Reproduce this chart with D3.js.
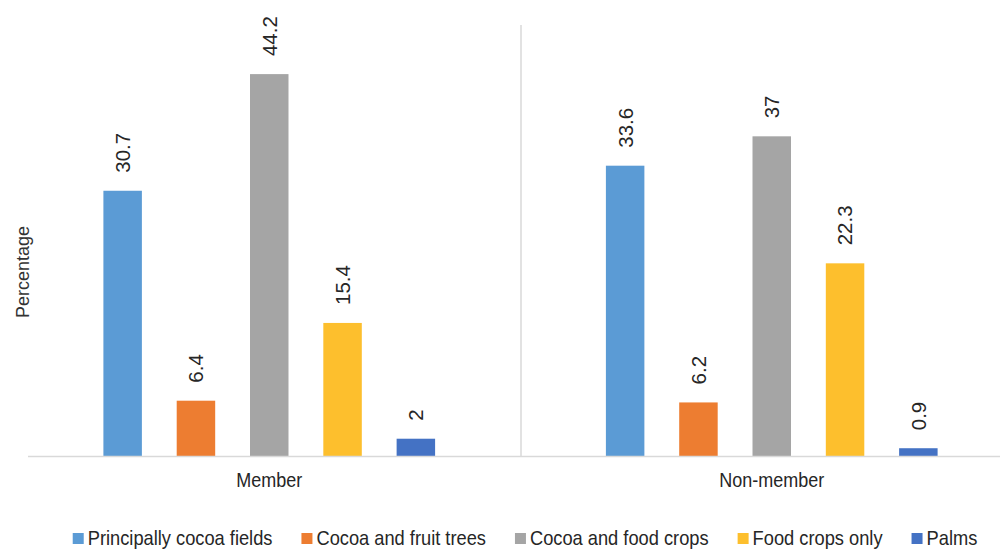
<!DOCTYPE html>
<html>
<head>
<meta charset="utf-8">
<script src="https://cdn.jsdelivr.net/npm/d3@7"></script>
<style>
  html, body { margin: 0; padding: 0; background: #ffffff; }
  svg { display: block; }
  text { font-family: "Liberation Sans", Arial, sans-serif; }
</style>
</head>
<body>
<svg id="chart" width="1000" height="549"></svg>
<script>
// ---- data ----
const groups = ["Member", "Non-member"];
const seriesNames = ["Principally cocoa fields", "Cocoa and fruit trees", "Cocoa and food crops", "Food crops only", "Palms"];
const memberValues = [30.7, 6.4, 44.2, 15.4, 2];
const nonMemberValues = [33.6, 6.2, 37, 22.3, 0.9];
const seriesColors = ["#5B9BD5", "#ED7D31", "#A5A5A5", "#FDBF2D", "#4472C4"];
const yAxisTitle = "Percentage";

const valuesByGroup = [memberValues, nonMemberValues];

const svg = d3.select("#chart");

const plot = { left: 18, right: 1023, top: 24, bottom: 456 };

const x0 = d3.scaleBand().domain(groups).range([plot.left, plot.right]).padding(0);
const x1 = d3.scaleBand().domain(seriesNames).range([0, x0.bandwidth()])
  .paddingInner(0.475).paddingOuter(1.165);
const y = d3.scaleLinear().domain([0, 50]).range([plot.bottom, plot.top]);

// separator between groups
svg.append("line")
  .attr("x1", x0("Non-member") + 0.5).attr("x2", x0("Non-member") + 0.5)
  .attr("y1", y(50) + 1).attr("y2", plot.bottom)
  .attr("stroke", "#D9D9D9").attr("stroke-width", 1.5);

// bars
const gGroups = svg.selectAll("g.group")
  .data(groups.map((g, i) => ({ group: g, values: valuesByGroup[i] })))
  .join("g")
  .attr("class", "group")
  .attr("transform", d => `translate(${x0(d.group)},0)`);

gGroups.selectAll("rect")
  .data(d => d.values.map((v, j) => ({ name: seriesNames[j], value: v, color: seriesColors[j] })))
  .join("rect")
  .attr("x", d => x1(d.name))
  .attr("width", x1.bandwidth())
  .attr("y", d => y(d.value))
  .attr("height", d => y(0) - y(d.value))
  .attr("fill", d => d.color);

// value labels (rotated)
gGroups.selectAll("text.val")
  .data(d => d.values.map((v, j) => ({ name: seriesNames[j], value: v })))
  .join("text")
  .attr("class", "val")
  .attr("transform", d => `translate(${x1(d.name) + x1.bandwidth() / 2},${y(d.value) - 18}) rotate(-90)`)
  .attr("dy", "0.36em")
  .attr("text-anchor", "start")
  .attr("font-size", 20.5)
  .attr("fill", "#262626")
  .text(d => d.value);

// baseline (x axis)
svg.append("line")
  .attr("x1", 28).attr("x2", 1000)
  .attr("y1", plot.bottom + 0.5).attr("y2", plot.bottom + 0.5)
  .attr("stroke", "#D9D9D9").attr("stroke-width", 1.5);

// group labels
svg.selectAll("text.grp")
  .data(groups)
  .join("text")
  .attr("class", "grp")
  .attr("transform", d => `translate(${x0(d) + x0.bandwidth() / 2},487) scale(0.9,1)`)
  .attr("text-anchor", "middle")
  .attr("font-size", 20)
  .attr("fill", "#262626")
  .text(d => d);

// y axis title
svg.append("text")
  .attr("transform", `translate(29,272) rotate(-90)`)
  .attr("text-anchor", "middle")
  .attr("font-size", 18)
  .attr("font-family", "Roboto, 'Liberation Sans', sans-serif")
  .attr("font-weight", 300)
  .attr("fill", "#333333")
  .text(yAxisTitle);

// legend
const legend = svg.append("g");
const lsx = 0.87;
const items = legend.selectAll("g.item")
  .data(seriesNames.map((n, i) => ({ name: n, color: seriesColors[i] })))
  .join("g")
  .attr("class", "item");
items.append("rect")
  .attr("width", 11).attr("height", 11)
  .attr("y", -12)
  .attr("fill", d => d.color);
items.append("text")
  .attr("transform", `translate(15,0) scale(${lsx},1)`)
  .attr("font-size", 21)
  .attr("fill", "#262626")
  .text(d => d.name);

let xpos = 0;
const gap = 29;
items.each(function () {
  const t = d3.select(this).select("text").node();
  const w = t.getComputedTextLength() * lsx;
  d3.select(this).attr("transform", `translate(${xpos},0)`);
  xpos += 15 + w + gap;
});
const totalW = xpos - gap;
legend.attr("transform", `translate(${525 - totalW / 2},545)`);
</script>
</body>
</html>
